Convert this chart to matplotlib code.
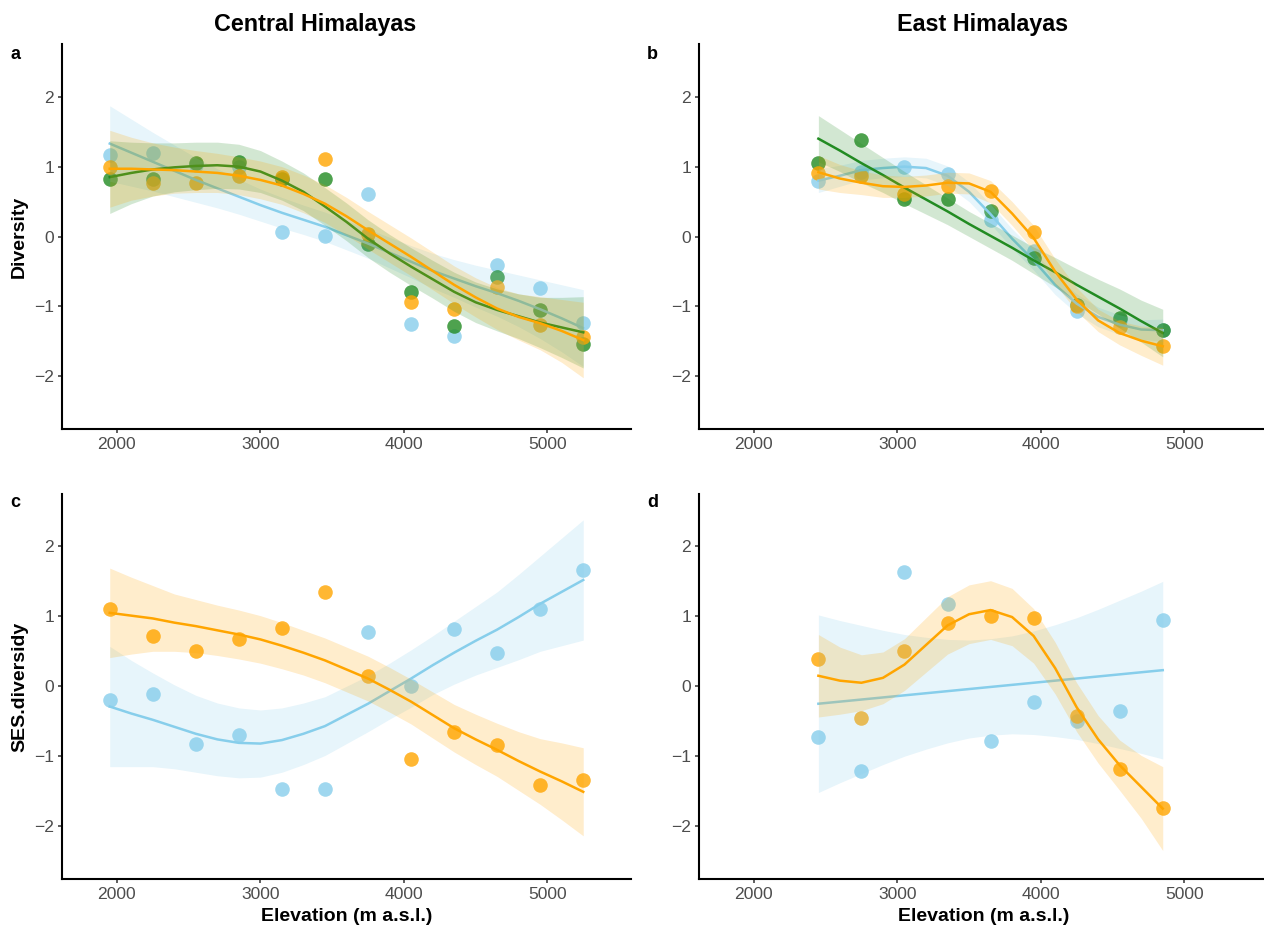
import numpy as np
import matplotlib.pyplot as plt

plt.rcParams['font.family'] = ['Liberation Sans', 'DejaVu Sans']

# elevation of the sampling bands
elev_central = [1950, 2250, 2550, 2850, 3150, 3450, 3750, 4050, 4350, 4650, 4950, 5250]
elev_east = [2450, 2750, 3050, 3350, 3650, 3950, 4250, 4550, 4850]

grid_central = [1950, 2100, 2250, 2400, 2550, 2700, 2850, 3000, 3150, 3300, 3450, 3600,
                3750, 3900, 4050, 4200, 4350, 4500, 4650, 4800, 4950, 5100, 5250]
grid_east = [2450, 2600, 2750, 2900, 3050, 3200, 3350, 3500, 3650, 3800, 3950, 4100,
             4250, 4400, 4550, 4700, 4850]

# ---- panel a : diversity, central himalayas
a_blue = [1.16, 1.20, 1.03, 0.99, 0.07, 0.01, 0.61, -1.25, -1.42, -0.41, -0.73, -1.24]
a_green = [0.82, 0.83, 1.05, 1.06, 0.83, 0.82, -0.11, -0.80, -1.28, -0.58, -1.05, -1.53]
a_orange = [0.99, 0.76, 0.77, 0.87, 0.85, 1.11, 0.03, -0.94, -1.03, -0.72, -1.26, -1.43]

a_blue_fit = [1.33, 1.20, 1.07, 0.94, 0.81, 0.69, 0.57, 0.45, 0.34, 0.24, 0.14, 0.02,
              -0.10, -0.23, -0.36, -0.49, -0.60, -0.71, -0.81, -0.92, -1.04, -1.17, -1.31]
a_blue_ci = [0.54, 0.48, 0.42, 0.37, 0.32, 0.28, 0.25, 0.23, 0.22, 0.21, 0.21, 0.21,
             0.21, 0.22, 0.23, 0.25, 0.27, 0.30, 0.33, 0.37, 0.42, 0.48, 0.55]
a_green_fit = [0.85, 0.91, 0.96, 0.99, 1.01, 1.02, 1.00, 0.93, 0.80, 0.64, 0.43, 0.21,
               -0.03, -0.24, -0.43, -0.61, -0.79, -0.94, -1.05, -1.14, -1.23, -1.30, -1.37]
a_green_ci = [0.52, 0.44, 0.38, 0.35, 0.34, 0.33, 0.32, 0.30, 0.28, 0.27, 0.27, 0.27,
              0.27, 0.27, 0.27, 0.27, 0.28, 0.29, 0.30, 0.32, 0.36, 0.43, 0.51]
a_orange_fit = [0.97, 0.97, 0.96, 0.95, 0.93, 0.91, 0.87, 0.81, 0.73, 0.61, 0.47, 0.29,
                0.09, -0.10, -0.29, -0.49, -0.69, -0.87, -1.03, -1.15, -1.24, -1.35, -1.48]
a_orange_ci = [0.55, 0.45, 0.38, 0.33, 0.30, 0.28, 0.27, 0.27, 0.27, 0.27, 0.27, 0.27,
               0.27, 0.27, 0.27, 0.27, 0.27, 0.28, 0.30, 0.33, 0.38, 0.45, 0.54]

# ---- panel b : diversity, east himalayas
b_blue = [0.80, 0.93, 1.00, 0.90, 0.23, -0.20, -1.07, -1.20, -1.34]
b_green = [1.05, 1.38, 0.53, 0.53, 0.36, -0.31, -0.98, -1.16, -1.34]
b_orange = [0.91, 0.86, 0.61, 0.72, 0.65, 0.07, -0.99, -1.30, -1.57]

b_blue_fit = [0.80, 0.87, 0.95, 0.98, 1.00, 0.98, 0.87, 0.64, 0.32, -0.03, -0.34, -0.69,
              -0.96, -1.15, -1.26, -1.33, -1.34]
b_blue_ci = [0.17, 0.15, 0.14, 0.14, 0.14, 0.14, 0.14, 0.14, 0.14, 0.14, 0.14, 0.14,
             0.14, 0.14, 0.14, 0.14, 0.16]
b_green_fit = [1.40, 1.23, 1.05, 0.88, 0.70, 0.53, 0.36, 0.18, 0.01, -0.16, -0.34, -0.51,
               -0.69, -0.86, -1.03, -1.21, -1.38]
b_green_ci = [0.33, 0.30, 0.28, 0.25, 0.23, 0.21, 0.19, 0.18, 0.18, 0.18, 0.19, 0.21,
              0.23, 0.25, 0.28, 0.30, 0.34]
b_orange_fit = [0.92, 0.83, 0.77, 0.72, 0.71, 0.73, 0.77, 0.76, 0.64, 0.33, -0.02, -0.50,
                -0.90, -1.20, -1.38, -1.49, -1.57]
b_orange_ci = [0.24, 0.20, 0.17, 0.16, 0.15, 0.15, 0.15, 0.15, 0.16, 0.17, 0.18, 0.18,
               0.17, 0.16, 0.17, 0.21, 0.27]

# ---- panel c : SES diversity, central himalayas
c_blue = [-0.20, -0.11, -0.83, -0.70, -1.47, -1.47, 0.77, 0.00, 0.82, 0.47, 1.10, 1.66]
c_orange = [1.10, 0.72, 0.50, 0.68, 0.83, 1.35, 0.14, -1.04, -0.65, -0.84, -1.41, -1.34]

c_blue_fit = [-0.29, -0.39, -0.48, -0.58, -0.68, -0.76, -0.81, -0.82, -0.77, -0.68, -0.57, -0.41,
              -0.25, -0.07, 0.11, 0.30, 0.48, 0.65, 0.81, 0.99, 1.18, 1.35, 1.52]
c_blue_ci = [0.86, 0.76, 0.67, 0.60, 0.55, 0.52, 0.50, 0.48, 0.46, 0.44, 0.42, 0.41,
             0.40, 0.40, 0.41, 0.42, 0.45, 0.49, 0.54, 0.61, 0.68, 0.77, 0.86]
c_orange_fit = [1.05, 1.01, 0.97, 0.91, 0.86, 0.80, 0.74, 0.67, 0.58, 0.48, 0.37, 0.24,
                0.11, -0.05, -0.22, -0.41, -0.60, -0.76, -0.91, -1.07, -1.22, -1.36, -1.51]
c_orange_ci = [0.64, 0.55, 0.47, 0.41, 0.38, 0.36, 0.35, 0.34, 0.33, 0.32, 0.32, 0.32,
               0.32, 0.32, 0.32, 0.33, 0.34, 0.36, 0.38, 0.42, 0.47, 0.55, 0.63]

# ---- panel d : SES diversity, east himalayas
d_blue = [-0.73, -1.21, 1.64, 1.18, -0.78, -0.23, -0.49, -0.36, 0.95]
d_orange = [0.39, -0.46, 0.50, 0.90, 1.00, 0.98, -0.43, -1.18, -1.74]

d_blue_fit = [-0.25, -0.22, -0.19, -0.16, -0.13, -0.10, -0.07, -0.04, -0.01, 0.02, 0.05, 0.08,
              0.11, 0.14, 0.17, 0.20, 0.23]
d_blue_ci = [1.27, 1.16, 1.06, 0.96, 0.87, 0.80, 0.74, 0.70, 0.69, 0.70, 0.74, 0.80,
             0.87, 0.96, 1.06, 1.16, 1.27]
d_orange_fit = [0.15, 0.08, 0.05, 0.12, 0.31, 0.59, 0.87, 1.03, 1.09, 0.99, 0.72, 0.26,
                -0.30, -0.76, -1.13, -1.44, -1.75]
d_orange_ci = [0.59, 0.48, 0.40, 0.37, 0.37, 0.39, 0.41, 0.42, 0.42, 0.41, 0.39, 0.37,
               0.35, 0.34, 0.36, 0.45, 0.60]

BLUE = '#87CEEB'
GREEN = '#228B22'
ORANGE = '#FFA500'

W, H = 1264, 925
fig = plt.figure(figsize=(W / 100, H / 100), dpi=100)


def make_axes(left, top, width=568.6, height=384.5):
    ax = fig.add_axes([left / W, 1 - (top + height) / H, width / W, height / H])
    ax.set_xlim(1620, 5583)
    ax.set_ylim(-2.75, 2.75)
    ax.set_xticks([2000, 3000, 4000, 5000])
    ax.set_yticks([-2, -1, 0, 1, 2])
    for s in ['top', 'right']:
        ax.spines[s].set_visible(False)
    for s in ['left', 'bottom']:
        ax.spines[s].set_linewidth(1.5)
    ax.tick_params(direction='out', length=3, width=1.1, color='#333333',
                   labelcolor='#4D4D4D', labelsize=12.6, pad=3)
    return ax


def points(ax, x, y, color):
    ax.scatter(x, y, s=110, color=color, alpha=0.8, linewidths=0, zorder=2)


def smooth(ax, x, fit, ci, color):
    fit = np.array(fit)
    ci = np.array(ci)
    ax.fill_between(x, fit - ci, fit + ci, color=color, alpha=0.2, linewidth=0, zorder=3)
    ax.plot(x, fit, color=color, lw=1.8, zorder=3, solid_joinstyle='round')


ax_a = make_axes(62.4, 44.3)
ax_b = make_axes(699.3, 44.3)
ax_c = make_axes(62.4, 494.0)
ax_d = make_axes(699.3, 494.0)

points(ax_a, elev_central, a_blue, BLUE)
points(ax_a, elev_central, a_green, GREEN)
points(ax_a, elev_central, a_orange, ORANGE)
smooth(ax_a, grid_central, a_blue_fit, a_blue_ci, BLUE)
smooth(ax_a, grid_central, a_green_fit, a_green_ci, GREEN)
smooth(ax_a, grid_central, a_orange_fit, a_orange_ci, ORANGE)

points(ax_b, elev_east, b_blue, BLUE)
points(ax_b, elev_east, b_green, GREEN)
points(ax_b, elev_east, b_orange, ORANGE)
smooth(ax_b, grid_east, b_blue_fit, b_blue_ci, BLUE)
smooth(ax_b, grid_east, b_green_fit, b_green_ci, GREEN)
smooth(ax_b, grid_east, b_orange_fit, b_orange_ci, ORANGE)

points(ax_c, elev_central, c_blue, BLUE)
points(ax_c, elev_central, c_orange, ORANGE)
smooth(ax_c, grid_central, c_blue_fit, c_blue_ci, BLUE)
smooth(ax_c, grid_central, c_orange_fit, c_orange_ci, ORANGE)

points(ax_d, elev_east, d_blue, BLUE)
points(ax_d, elev_east, d_orange, ORANGE)
smooth(ax_d, grid_east, d_blue_fit, d_blue_ci, BLUE)
smooth(ax_d, grid_east, d_orange_fit, d_orange_ci, ORANGE)


def ftext(x, y, s, **kw):
    fig.text(x / W, 1 - y / H, s, **kw)


ftext(315.5, 31.5, 'Central Himalayas', ha='center', va='baseline', fontsize=16.8, fontweight='bold')
ftext(982.5, 31.5, 'East Himalayas', ha='center', va='baseline', fontsize=16.8, fontweight='bold')

for x, y, s in [(15.5, 59.3, 'a'), (652.5, 59.3, 'b'), (15.5, 507.3, 'c'), (652.5, 507.3, 'd')]:
    ftext(x, y, s, ha='center', va='baseline', fontsize=13, fontweight='bold')

ftext(19.5, 236.5, 'Diversity', ha='center', va='center', rotation=90, fontsize=14, fontweight='bold')
ftext(19.5, 686.5, 'SES.diversidy', ha='center', va='center', rotation=90, fontsize=14, fontweight='bold')
ftext(346.7, 921, 'Elevation (m a.s.l.)', ha='center', va='baseline', fontsize=14, fontweight='bold')
ftext(983.5, 921, 'Elevation (m a.s.l.)', ha='center', va='baseline', fontsize=14, fontweight='bold')

fig.savefig('out.png', dpi=100)
